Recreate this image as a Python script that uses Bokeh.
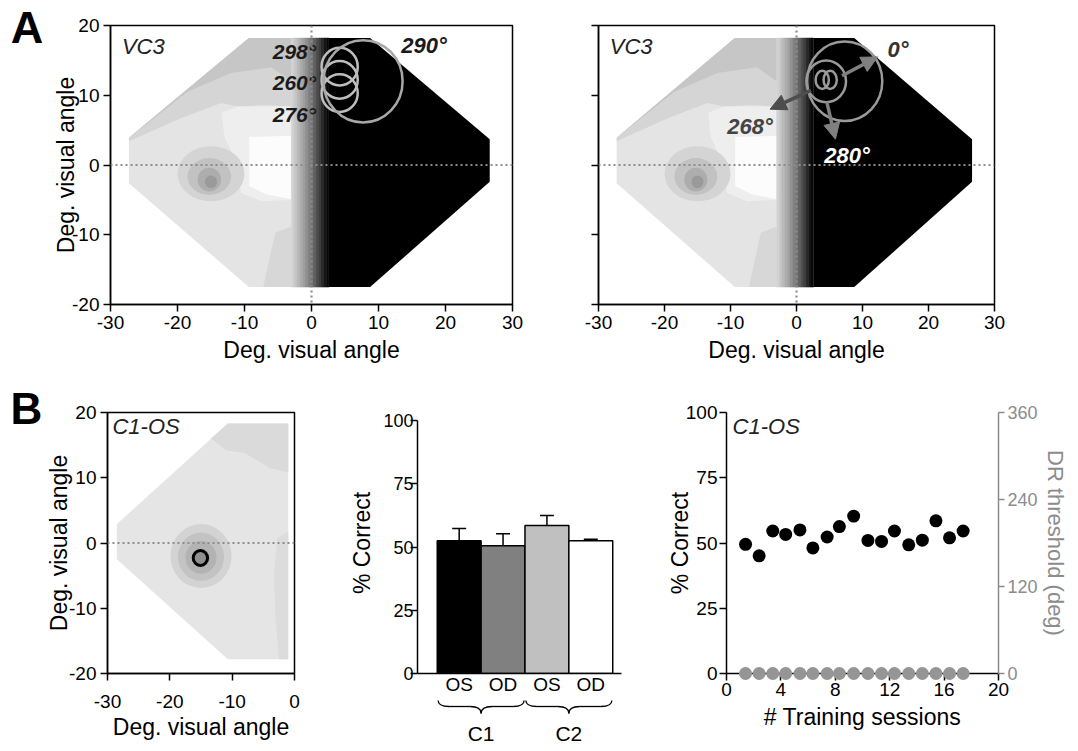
from bokeh.plotting import figure
from bokeh.layouts import column, row
from bokeh.models import (Range1d, FixedTicker, Span, Arrow, NormalHead,
                          Whisker, TeeHead, ColumnDataSource, LinearAxis)
from bokeh.core.properties import value
from bokeh.embed import file_html
from bokeh.resources import INLINE

FONT = "Liberation Sans"

# ---------------- data ----------------
# Panel A: contour map of VC3 (deg. visual angle)
a_x_ticks = [-30, -20, -10, 0, 10, 20, 30]
a_y_ticks = [-20, -10, 0, 10, 20]
oct_left_x = [-9.35, -3.0, -3.0, -9.35, -27.25, -27.25]
oct_left_y = [18.2, 18.2, -17.5, -17.5, -2.6, 3.9]
oct_right_x = [2.6, 8.75, 26.6, 26.6, 8.75, 2.6]
oct_right_y = [18.2, 18.2, 3.7, -2.4, -17.5, -17.5]
band_mid_x = [-27.25, -9.35, -3.0, -3.0, -7.0, -11.0, -13.5, -19.5, -27.25]
band_mid_y = [3.9, 18.2, 18.2, 8.4, 8.6, 8.4, 8.9, 6.7, 3.4]
band_dark_x = [-27.25, -9.35, -3.0, -3.0, -6.0, -12.0, -18.5, -25.0]
band_dark_y = [3.9, 18.2, 18.2, 12.0, 14.0, 13.2, 10.5, 5.6]
light_x = [-13.4, -11.0, -3.0, -3.0, -7.5, -10.5, -11.5, -13.0]
light_y = [7.5, 8.4, 8.4, -5.0, -5.2, -4.0, 1.0, 4.0]
white_x = [-9.3, -3.0, -3.0, -6.8, -9.3]
white_y = [4.0, 4.2, -4.9, -4.2, -3.0]
lowband_x = [-3.0, -5.4, -6.3, -7.2, -3.0]
lowband_y = [-8.8, -9.7, -13.5, -17.5, -17.5]
a_layer_colors = ["#e4e4e4", "#d5d5d5", "#c6c6c6", "#eeeeee", "#fcfcfc", "#d7d7d7"]
stripe_edges = [-3.0, -2.6, -2.2, -1.8, -1.4, -1.0, -0.6, -0.2, 0.2, 0.6,
                1.0, 1.4, 1.8, 2.2, 2.6]
stripe_colors = ["#d2d2d2", "#c6c6c6", "#bababa", "#adadad", "#a0a0a0", "#929292",
                 "#838383", "#737373", "#626262", "#505050", "#3d3d3d", "#2a2a2a",
                 "#171717", "#080808"]
a_blob_x = [-15.0, -15.25, -15.25, -15.0]
a_blob_y = [-1.25, -1.65, -2.1, -2.4]
a_blob_w = [10.0, 6.5, 3.5, 1.8]
a_blob_h = [7.9, 5.3, 3.4, 1.8]
a_blob_colors = ["#d4d4d4", "#c2c2c2", "#adadad", "#9a9a9a"]

# Panel A left: receptive fields
rf_small_x = [4.2, 4.2, 4.2]
rf_small_y = [14.1, 12.2, 10.3]
rf_small_d = [5.4, 5.4, 5.4]
rf_small_labels = ["298°", "260°", "276°"]
rf_small_label_y = [16.3, 11.8, 7.3]
rf_big_x = [7.7]
rf_big_y = [12.0]
rf_big_d = [11.8]
rf_big_label = ["290°"]

# Panel A right: receptive fields and arrows
rr_circ_x = [7.3, 4.5, 3.9, 5.1]
rr_circ_y = [12.0, 12.0, 12.2, 12.2]
rr_circ_w = [11.4, 6.0, 2.0, 2.0]
rr_circ_h = [11.4, 6.0, 2.6, 2.6]
arrow_x0 = [6.9, 2.2, 4.6]
arrow_y0 = [12.8, 10.7, 9.0]
arrow_x1 = [12.3, -4.0, 5.9]
arrow_y1 = [15.5, 8.0, 3.7]
arrow_colors = ["#808080", "#4d4d4d", "#808080"]
arrow_labels = ["0°", "268°", "280°"]
arrow_label_x = [13.8, -10.5, 4.2]
arrow_label_y = [16.6, 5.5, 1.3]
arrow_label_colors = ["#333333", "#444444", "#ffffff"]

# Panel B left: C1-OS map
bl_x_ticks = [-30, -20, -10, 0]
bl_y_ticks = [-20, -10, 0, 10, 20]
bl_oct_x = [-10.7, -1.0, -1.0, -10.7, -28.5, -28.5]
bl_oct_y = [18.3, 18.3, -17.8, -17.8, -2.5, 2.9]
bl_top_x = [-10.7, -1.0, -1.0, -4.0, -8.0, -11.0, -13.4]
bl_top_y = [18.3, 18.3, 10.8, 11.5, 13.8, 14.2, 16.0]
bl_side_x = [-1.0, -2.8, -3.3, -3.0, -2.5, -1.0]
bl_side_y = [1.8, 0.75, -5.3, -12.0, -17.8, -17.8]
bl_layer_colors = ["#e5e5e5", "#dadada", "#dcdcdc"]
bl_blob_x = [-15.0, -15.0, -15.0, -15.0]
bl_blob_y = [-2.0, -2.1, -2.2, -2.3]
bl_blob_d = [9.8, 7.4, 5.0, 2.8]
bl_blob_colors = ["#d3d3d3", "#c3c3c3", "#b3b3b3", "#a0a0a0"]
bl_rf_x = [-15.1]
bl_rf_y = [-2.3]
bl_rf_d = [2.3]

# Panel B middle: % correct by eye / condition
eye = ["OS", "OD", "OS", "OD"]
cond = ["C1", "C1", "C2", "C2"]
pct = [52.5, 50.5, 58.5, 52.5]
sem = [4.8, 4.8, 4.0, 0.6]
bar_colors = ["#000000", "#808080", "#c0c0c0", "#ffffff"]
bm_y_ticks = [0, 25, 50, 75, 100]

# Panel B right: training sessions
sessions = [1.4, 2.4, 3.4, 4.35, 5.4, 6.35, 7.4, 8.3, 9.35, 10.4, 11.4,
            12.35, 13.4, 14.4, 15.4, 16.4, 17.4]
pct_correct = [49.5, 45.1, 54.6, 53.3, 55.0, 48.1, 52.3, 56.3, 60.3, 51.0,
               50.6, 54.6, 49.3, 51.1, 58.5, 52.0, 54.6]
dr_threshold = [0, 0, 0, 0, 0, 0, 0, 0, 0, 0, 0, 0, 0, 0, 0, 0, 0]
br_x_ticks = [0, 4, 8, 12, 16, 20]
br_y_ticks = [0, 25, 50, 75, 100]
br_y2_ticks = [0, 120, 240, 360]


# ---------------- helpers ----------------
def make_fig(width, height, xr, yr, mbl, mbr, mbt, mbb, outline=True):
    p = figure(width=width, height=height, x_range=Range1d(*xr), y_range=Range1d(*yr),
               output_backend="svg", toolbar_location=None,
               min_border_left=mbl, min_border_right=mbr,
               min_border_top=mbt, min_border_bottom=mbb)
    p.xgrid.visible = False
    p.ygrid.visible = False
    p.background_fill_color = "white"
    p.border_fill_color = "white"
    if outline:
        p.outline_line_color = "black"
        p.outline_line_width = 1.5
    else:
        p.outline_line_color = None
    return p


def style_axis(ax, ticks, color="black", lab_size="19px", title_size="23px",
               label_standoff=4, title_standoff=5, tick_out=7, show_labels=True):
    ax.ticker = FixedTicker(ticks=ticks)
    ax.major_label_overrides = {t: str(t) for t in ticks}
    ax.major_label_text_font = FONT
    ax.major_label_text_font_size = lab_size
    ax.major_label_text_color = color if show_labels else None
    ax.major_label_standoff = label_standoff
    ax.axis_line_color = color
    ax.axis_line_width = 1.5
    ax.major_tick_line_color = color
    ax.major_tick_line_width = 1.5
    ax.major_tick_out = tick_out
    ax.major_tick_in = 0
    ax.minor_tick_line_color = None
    ax.axis_label_text_font = FONT
    ax.axis_label_text_font_style = "normal"
    ax.axis_label_text_font_size = title_size
    ax.axis_label_text_color = color
    ax.axis_label_standoff = title_standoff


def dotted(p, dim):
    p.add_layout(Span(location=0, dimension=dim, line_color="#8c8c8c",
                      line_width=2.2, line_dash="2 3"))


def draw_a_map(p):
    xs = [oct_left_x, band_mid_x, band_dark_x, light_x, white_x, lowband_x]
    ys = [oct_left_y, band_mid_y, band_dark_y, light_y, white_y, lowband_y]
    p.patches(xs, ys, fill_color=a_layer_colors, line_color=None)
    p.ellipse(a_blob_x, a_blob_y, width=a_blob_w, height=a_blob_h,
              fill_color=a_blob_colors, line_color=None)
    p.quad(left=stripe_edges[:-1], right=stripe_edges[1:],
           bottom=min(oct_left_y), top=max(oct_left_y),
           fill_color=stripe_colors, line_color=stripe_colors, line_width=0.5)
    p.patch(oct_right_x, oct_right_y, fill_color="black", line_color=None)
    dotted(p, "width")
    dotted(p, "height")


def txt(p, x, y, t, size="22px", style="italic", color="#222222",
        align="left", baseline="top", level="glyph"):
    r = p.text(x=x, y=y, text=t, text_font=value(FONT), text_font_size=size,
               text_font_style=style, text_color=color, text_align=align,
               text_baseline=baseline)
    r.level = level
    return r


# ---------------- Panel A left ----------------
pa1 = make_fig(548, 380, (-30, 30), (-20, 20), 110, 36, 25, 76)
draw_a_map(pa1)
pa1.ellipse(rf_small_x, rf_small_y, width=rf_small_d, height=rf_small_d,
            fill_color=None, line_color="#bdbdbd", line_width=2.5)
pa1.ellipse(rf_big_x, rf_big_y, width=rf_big_d, height=rf_big_d,
            fill_color=None, line_color="#a8a8a8", line_width=2.5)
txt(pa1, [0.7] * 3, rf_small_label_y, rf_small_labels, size="21px",
    style="bold italic", color="#1a1a1a", align="right", baseline="middle")
txt(pa1, [13.4], [17.1], rf_big_label, size="22px", style="bold italic",
    color="#1a1a1a", baseline="middle")
txt(pa1, [-28.3], [18.8], ["VC3"])
style_axis(pa1.xaxis[0], a_x_ticks)
style_axis(pa1.yaxis[0], a_y_ticks, title_standoff=-10)
pa1.xaxis.axis_label = "Deg. visual angle"
pa1.yaxis.axis_label = "Deg. visual angle"
# panel letter, placed left of the y axis
txt(pa1, [-44.9], [23.4], ["A"], size="45px", style="bold", color="black",
    baseline="top", level="overlay")

# ---------------- Panel A right ----------------
pa2 = make_fig(506, 380, (-30, 30), (-20, 20), 50, 60, 25, 76)
draw_a_map(pa2)
pa2.ellipse(rr_circ_x, rr_circ_y, width=rr_circ_w, height=rr_circ_h,
            fill_color=None, line_color="#9a9a9a", line_width=2.5)
for x0, y0, x1, y1, c in zip(arrow_x0, arrow_y0, arrow_x1, arrow_y1, arrow_colors):
    pa2.add_layout(Arrow(end=NormalHead(size=16, fill_color=c, line_color=c),
                         x_start=x0, y_start=y0, x_end=x1, y_end=y1,
                         line_color=c, line_width=3.5))
txt(pa2, arrow_label_x, arrow_label_y, arrow_labels, size="22px",
    style="bold italic", color=arrow_label_colors, baseline="middle")
txt(pa2, [-28.3], [18.8], ["VC3"])
style_axis(pa2.xaxis[0], a_x_ticks)
style_axis(pa2.yaxis[0], a_y_ticks, show_labels=False)
pa2.xaxis.axis_label = "Deg. visual angle"

# ---------------- Row B: shared borders (frames 412 -> 673) ----------------
B_TOP, B_BOTTOM = 32, 77

# ---------------- Panel B left ----------------
pb1 = make_fig(330, 370, (-30, 0), (-20, 20), 107, 36, B_TOP, B_BOTTOM)
pb1.patches([bl_oct_x, bl_top_x, bl_side_x], [bl_oct_y, bl_top_y, bl_side_y],
            fill_color=bl_layer_colors, line_color=None)
pb1.ellipse(bl_blob_x, bl_blob_y, width=bl_blob_d, height=bl_blob_d,
            fill_color=bl_blob_colors, line_color=None)
dotted(pb1, "width")
pb1.ellipse(bl_rf_x, bl_rf_y, width=bl_rf_d, height=bl_rf_d,
            fill_color="#8f8f8f", line_color="black", line_width=3)
txt(pb1, [-29.2], [19.7], ["C1-OS"])
style_axis(pb1.xaxis[0], bl_x_ticks, label_standoff=14, title_standoff=3)
style_axis(pb1.yaxis[0], bl_y_ticks, title_standoff=-6)
pb1.xaxis.axis_label = "Deg. visual angle"
pb1.yaxis.axis_label = "Deg. visual angle"
txt(pb1, [-45.56], [24.3], ["B"], size="44px", style="bold", color="black",
    baseline="top", level="overlay")

# ---------------- Panel B middle ----------------
bar_x = list(range(1, len(eye) + 1))
pb2 = make_fig(310, 370, (0.05, 4.7), (0, 103.2), 87, 19, B_TOP, B_BOTTOM,
               outline=False)
pb2.vbar(x=bar_x, top=pct, bottom=0, width=1.0, fill_color=bar_colors,
         line_color="black", line_width=1.5)
err_src = ColumnDataSource(dict(x=bar_x, lower=pct,
                                upper=[v + e for v, e in zip(pct, sem)]))
wh = Whisker(source=err_src, base="x", lower="lower", upper="upper",
             upper_head=TeeHead(size=14, line_width=1.5, line_color="black"),
             lower_head=None, line_width=1.5, line_color="black")
wh.level = "annotation"
pb2.add_layout(wh)
# braces and condition labels below the category axis
groups = []
for c in dict.fromkeys(cond):
    idx = [bar_x[i] for i, cc in enumerate(cond) if cc == c]
    groups.append((c, min(idx) - 0.5 + 0.02, max(idx) + 0.5 - 0.02))
y_end, y_line, y_tip, d = -10.7, -13.05, -15.8, 0.25
qx0, qy0, qx1, qy1, qcx, qcy = [], [], [], [], [], []
sx0, sy0, sx1, sy1 = [], [], [], []
for c, a, b in groups:
    m = (a + b) / 2
    for (x0, y0, x1, y1, cx, cy) in [(a, y_end, a + d, y_line, a, y_line),
                                     (m - d, y_line, m, y_tip, m, y_line),
                                     (m, y_tip, m + d, y_line, m, y_line),
                                     (b - d, y_line, b, y_end, b, y_line)]:
        qx0.append(x0); qy0.append(y0); qx1.append(x1); qy1.append(y1)
        qcx.append(cx); qcy.append(cy)
    sx0 += [a + d, m + d]; sx1 += [m - d, b - d]
    sy0 += [y_line, y_line]; sy1 += [y_line, y_line]
rq = pb2.quadratic(x0=qx0, y0=qy0, x1=qx1, y1=qy1, cx=qcx, cy=qcy,
                   line_color="black", line_width=1.3)
rq.level = "overlay"
rs = pb2.segment(x0=sx0, y0=sy0, x1=sx1, y1=sy1, line_color="black", line_width=1.3)
rs.level = "overlay"
txt(pb2, [(a + b) / 2 for _, a, b in groups], [-23.7] * len(groups),
    [g[0] for g in groups], size="21px", style="normal", color="black",
    align="center", baseline="middle", level="overlay")
style_axis(pb2.yaxis[0], bm_y_ticks, lab_size="18px", label_standoff=-3,
           title_standoff=5)
pb2.yaxis.bounds = (0, 100)
pb2.yaxis.axis_label = "% Correct"
xa = pb2.xaxis[0]
style_axis(xa, bar_x, lab_size="19px", label_standoff=0, tick_out=0)
xa.major_label_overrides = {t: e for t, e in zip(bar_x, eye)}

# ---------------- Panel B right ----------------
pb3 = make_fig(430, 370, (0, 20), (0, 100), 86, 69, B_TOP, B_BOTTOM, outline=False)
pb3.extra_y_ranges = {"dr": Range1d(0, 360)}
pb3.scatter(sessions, pct_correct, size=13, fill_color="black", line_color=None)
rg = pb3.scatter(sessions, dr_threshold, size=13, fill_color="#959595",
                 line_color=None, y_range_name="dr")
rg.level = "overlay"
txt(pb3, [0.45], [99.6], ["C1-OS"], level="overlay")
style_axis(pb3.xaxis[0], br_x_ticks, label_standoff=2, title_standoff=5)
pb3.xaxis.axis_label = "# Training sessions"
style_axis(pb3.yaxis[0], br_y_ticks, label_standoff=2, title_standoff=-10)
pb3.yaxis.axis_label = "% Correct"
ax2 = LinearAxis(y_range_name="dr")
style_axis(ax2, br_y2_ticks, color="#8c8c8c", lab_size="18px", title_size="22px",
           label_standoff=3, title_standoff=2, tick_out=6)
ax2.axis_label = "DR threshold (deg)"
pb3.add_layout(ax2, "right")

layout = column(row(pa1, pa2), row(pb1, pb2, pb3))
open("out.html", "w").write(file_html(layout, INLINE))
